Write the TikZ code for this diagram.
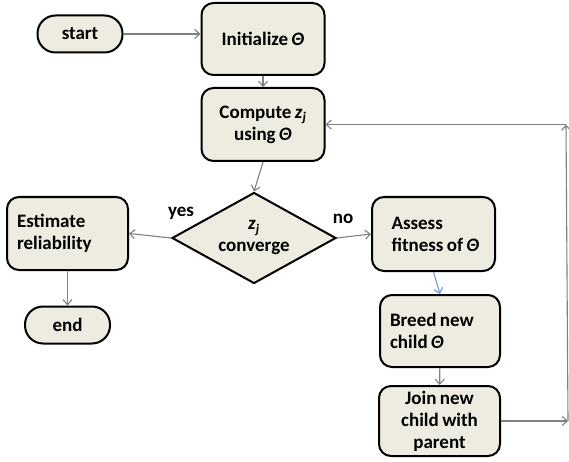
\documentclass[tikz,border=0pt]{standalone}
\usepackage{fontspec}
\setmainfont{Carlito}
\usetikzlibrary{positioning,calc,arrows.meta,shapes.geometric}
\definecolor{boxfill}{RGB}{238,236,225}
\definecolor{linkgray}{RGB}{128,128,128}
\definecolor{linkblue}{RGB}{115,155,215}
\newcommand{\boxfont}{\fontsize{19}{22}\selectfont\bfseries\spaceskip=0.18em plus 0.05em\relax}
\tikzset{font=\boxfont}
\newcommand{\thet}{\textit{Θ}}
\newcommand{\zj}{\textit{z}\textsubscript{\textit{j}}}

\begin{document}
\begin{tikzpicture}[x=1pt,y=-1pt]
	\tikzstyle{box}=[draw, line width=2pt, fill=boxfill, rounded corners=12pt, align=flush center, minimum width=123pt, minimum height=72pt, inner sep=4pt]
	\tikzstyle{pill}=[draw, line width=2pt, fill=boxfill, rounded corners=18pt, minimum width=85pt, minimum height=37pt, inner sep=2pt]
	\tikzstyle{decide}=[draw, line width=2pt, fill=boxfill, diamond, aspect=1.8, inner sep=0pt, minimum width=164pt, minimum height=91pt, align=flush center]
	\tikzstyle{link}=[draw=linkgray, line width=1.1pt, -{Straight Barb[length=5pt,width=9pt]}]
	\useasboundingbox (0,0) rectangle (569,462);

	\node[pill] (start) at (80,34) {start};
	\node[box] (init) at (263,39) {Initialize~\thet};
	\node[box, minimum height=73pt] (comp) at (263,124.5) {Compute~\zj\\using~\thet};
	\node[decide] (conv) at (254,238) {\zj\\converge};

	\node[box, align=flush left, text width=101pt, inner xsep=10pt, minimum width=121pt, minimum height=73pt] (est) at (67.5,233.5) {Estimate\\reliability};
	\node[pill] (finish) at (67.5,325) {end};

	\node[box, align=flush left, text width=84pt, inner xsep=19.5pt, minimum height=74pt] (assess) at (433.5,234) {Assess\\fitness~of~\thet};
	\node[box, align=flush left, text width=100pt, inner xsep=10pt, minimum width=120pt] (breed) at (440,331) {Breed~new\\child~\thet};
	\node[box, minimum width=121pt, minimum height=70pt] (join) at (439.5,421) {Join~new\\child~with\\parent};

	\node (yes) at (181,213) {yes};
	\node (no) at (343,219) {no};

	\coordinate (loopbot) at (568,421);
	\coordinate (looptop) at (566,124.5);

	\draw[link] (start.east) -- (start.east -| init.west);
	\draw[link] (init) -- (comp);
	\draw[link] (comp.south) -- (conv.north);
	\draw[link] (conv.west) -- (est.east);
	\draw[link] (conv.east) -- (assess.west);
	\draw[link] (est) -- (finish);
	\draw[link, draw=linkblue] (assess.south) -- (breed.north);
	\draw[link] (breed) -- (join);
	\draw[link] (join.east) -- (loopbot);
	\draw[link] (loopbot) -- (looptop);
	\draw[link] (looptop) -- (comp.east);
\end{tikzpicture}
\end{document}
